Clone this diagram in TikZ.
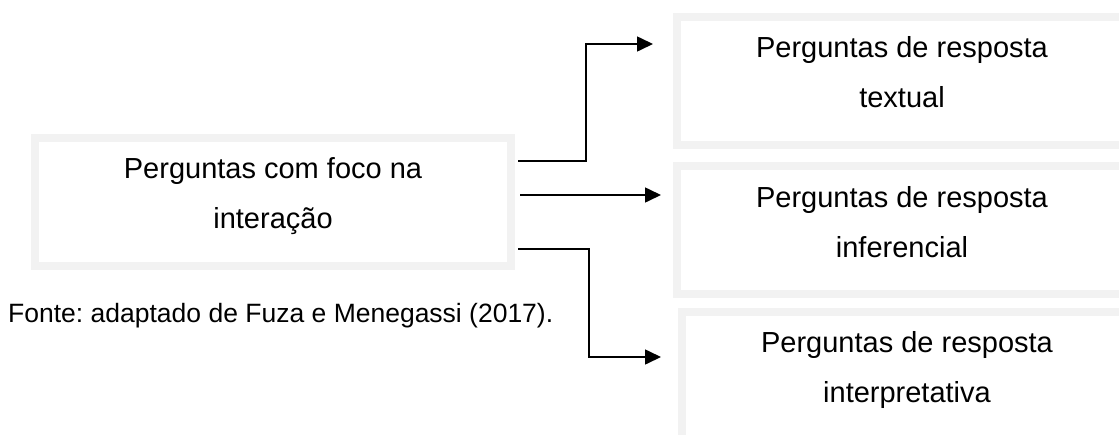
\documentclass[tikz,border=0pt]{standalone}
\usepackage{fontspec}
\setmainfont{Liberation Sans}
\usetikzlibrary{arrows.meta}
\definecolor{boxgray}{HTML}{F2F2F2}
\frenchspacing
\begin{document}
\begin{tikzpicture}[x=1pt,y=-1pt,
  gbox/.style={draw=boxgray, line width=8pt, fill=white, inner sep=0pt},
  conn/.style={line width=1.6pt, -{Triangle[length=16pt,width=15pt]}},
  boxtext/.style={font=\fontsize{29}{50}\selectfont, align=center, anchor=north, inner sep=0pt},
  note/.style={font=\fontsize{26.5}{30}\selectfont, anchor=base west, inner sep=0pt}]
\fill[white] (0,0) rectangle (1119,434);
\useasboundingbox (0,0) rectangle (1119,434);
% boxes
\node[gbox, minimum width=476pt, minimum height=128pt] (a) at (273,202) {};
\node[gbox, anchor=west, minimum width=480pt, minimum height=128pt] (t) at (673,81) {};
\node[gbox, anchor=west, minimum width=480pt, minimum height=128pt] (m) at (673,230) {};
\node[gbox, anchor=west, minimum width=480pt, minimum height=128pt] (b) at (678,376) {};
% texts
\node[boxtext] (ta) at (273,157) {Perguntas com foco na\\interação};
\node[boxtext] (tt) at (902,36) {Perguntas de resposta\\textual};
\node[boxtext] (tm) at (902,186) {Perguntas de resposta\\inferencial};
\node[boxtext] (tb) at (907,331) {Perguntas de resposta\\interpretativa};
\node[note] (src) at (8,322) {Fonte: adaptado de Fuza e Menegassi (2017).};
% connectors
\draw[conn] ([xshift=3pt,yshift=41pt]a.east) -- ++(68,0) |- ([xshift=-20pt,yshift=37pt]t.west);
\draw[conn] ([xshift=5pt,yshift=7pt]a.east) -- ([xshift=-12pt,yshift=35pt]m.west);
\draw[conn] ([xshift=3pt,yshift=-47pt]a.east) -- ++(71,0) |- ([xshift=-17pt,yshift=19pt]b.west);
\end{tikzpicture}
\end{document}
